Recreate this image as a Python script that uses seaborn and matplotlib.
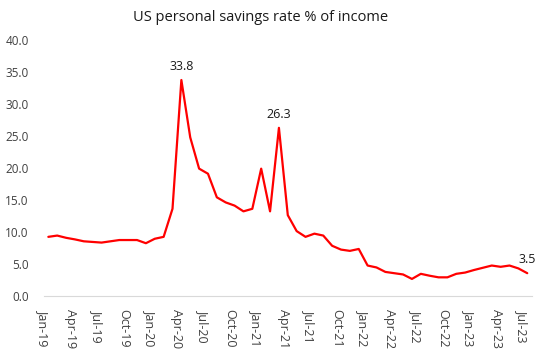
import matplotlib
matplotlib.use("Agg")
import matplotlib.pyplot as plt
import seaborn as sns
import pandas as pd
import numpy as np

months = ["Jan-19","Feb-19","Mar-19","Apr-19","May-19","Jun-19","Jul-19","Aug-19","Sep-19","Oct-19","Nov-19","Dec-19",
          "Jan-20","Feb-20","Mar-20","Apr-20","May-20","Jun-20","Jul-20","Aug-20","Sep-20","Oct-20","Nov-20","Dec-20",
          "Jan-21","Feb-21","Mar-21","Apr-21","May-21","Jun-21","Jul-21","Aug-21","Sep-21","Oct-21","Nov-21","Dec-21",
          "Jan-22","Feb-22","Mar-22","Apr-22","May-22","Jun-22","Jul-22","Aug-22","Sep-22","Oct-22","Nov-22","Dec-22",
          "Jan-23","Feb-23","Mar-23","Apr-23","May-23","Jun-23","Jul-23"]
savings = [9.2, 9.4, 9.05, 8.8, 8.5, 8.4, 8.3, 8.5, 8.7, 8.7, 8.7, 8.2,
           8.9, 9.2, 13.6, 33.8, 24.8, 19.9, 19.1, 15.4, 14.6, 14.1, 13.2, 13.6,
           19.9, 13.2, 26.3, 12.6, 10.1, 9.2, 9.7, 9.4, 7.8, 7.2, 7.0, 7.3,
           4.7, 4.4, 3.7, 3.5, 3.3, 2.6, 3.4, 3.1, 2.85, 2.85, 3.4, 3.6,
           4.0, 4.35, 4.7, 4.5, 4.7, 4.25, 3.5]
labelled = ["Apr-20", "Mar-21", "Jul-23"]
tick_labels = months[::3]
yticks = [0, 5, 10, 15, 20, 25, 30, 35, 40]

sns.set_style("white")
plt.rcParams['font.family'] = ['Open Sans', 'DejaVu Sans']

df = pd.DataFrame({"idx": np.arange(len(months)), "month": months, "rate": savings})

fig = plt.figure(figsize=(5.4, 3.52), dpi=100)
ax = fig.add_axes([0.0813, 0.1605, 0.9033, 0.7245])
sns.lineplot(data=df, x="idx", y="rate", ax=ax, color="#FF0000", linewidth=1.6)

ax.set_xlim(-0.5, len(months) - 0.5)
ax.set_ylim(0, 40)
ax.set_xticks(np.arange(0, len(months), 3) - 0.5)
ax.set_xticklabels(tick_labels, rotation=-90, fontsize=9, color="#404040")
ax.set_yticks(yticks)
ax.set_yticklabels([f"{v:.1f}" for v in yticks], fontsize=8.5, color="#404040")
ax.tick_params(axis="y", length=0, pad=11)
ax.tick_params(axis="x", length=4, width=0.8, color="#D9D9D9", direction="out", pad=5.5)
ax.set_xlabel("")
ax.set_ylabel("")
for s in ["top", "right", "left"]:
    ax.spines[s].set_visible(False)
ax.spines["bottom"].set_color("#D9D9D9")
ax.spines["bottom"].set_linewidth(0.8)

for m in labelled:
    i = months.index(m)
    ax.annotate(f"{savings[i]:.1f}", (i, savings[i]), xytext=(0, 5), textcoords="offset points",
                ha="center", va="bottom", fontsize=9, color="#1a1a1a")

fig.text(0.483, 0.95, "US personal savings rate % of income", ha="center", va="center",
         fontsize=10.5, color="#1a1a1a")

fig.savefig("out.png", dpi=100)
